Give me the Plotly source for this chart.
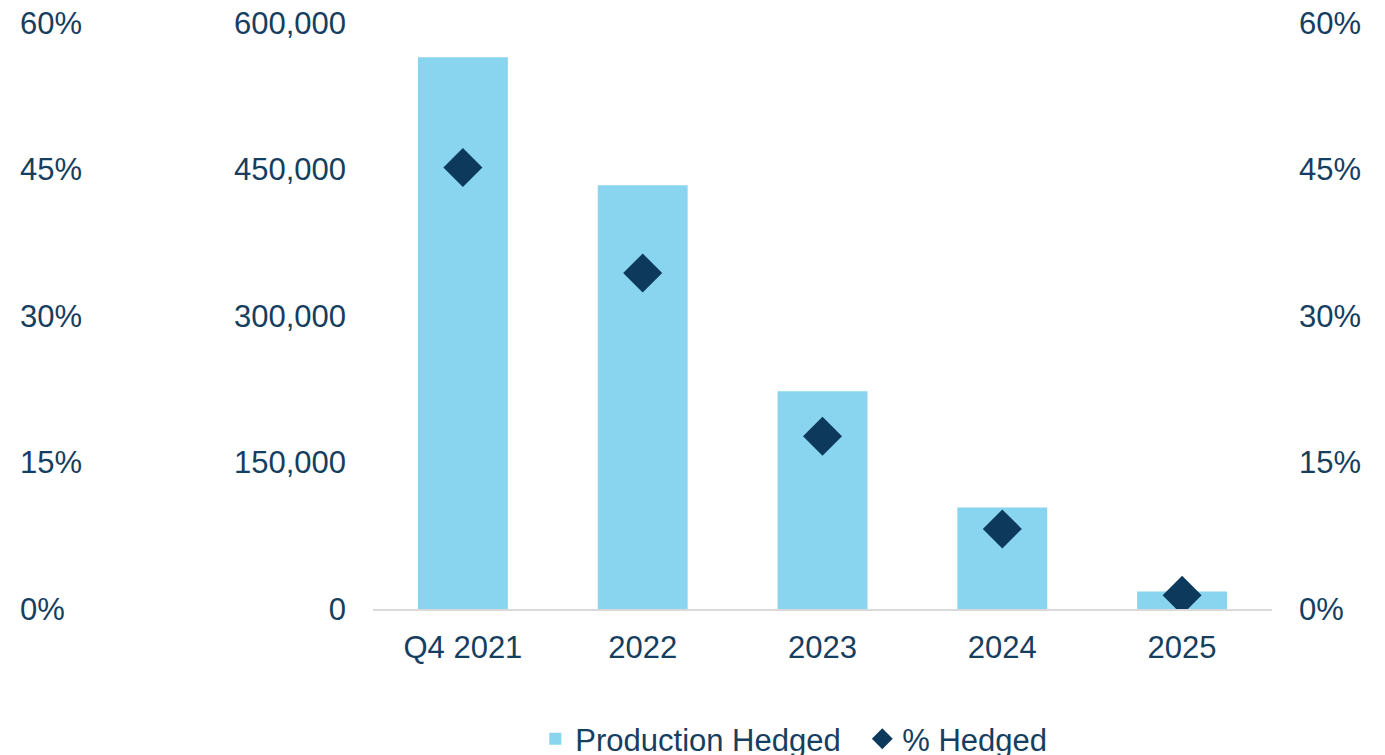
import plotly.graph_objects as go

# Hedging profile by period
periods = ["Q4 2021", "2022", "2023", "2024", "2025"]
production_hedged = [565000, 434000, 223000, 104000, 18000]
pct_hedged = [45.2, 34.4, 17.7, 8.2, 1.4]

volume_ticks = [0, 150000, 300000, 450000, 600000]
pct_ticks = [0, 15, 30, 45, 60]
pct_labels = [f"{v}%" for v in pct_ticks]

BAR_COLOR = "#89D4EE"
MARKER_COLOR = "#0D3A5C"
TEXT_COLOR = "#153E5F"
FONT = "Liberation Sans, Arial, sans-serif"

W, H = 1385, 755
plot_left, plot_right = 373, 1272

fig = go.Figure()

fig.add_trace(go.Bar(
    x=periods, y=production_hedged, name="Production Hedged",
    marker=dict(color=BAR_COLOR, line=dict(width=0)),
    width=0.5, yaxis="y",
))

fig.add_trace(go.Scatter(
    x=periods, y=pct_hedged, name="% Hedged", mode="markers",
    marker=dict(symbol="diamond", size=30, color=MARKER_COLOR),
    yaxis="y2",
))

# same series bound to the outer left percent axis so that axis is drawn
fig.add_trace(go.Scatter(
    x=periods, y=pct_hedged, mode="markers", showlegend=False,
    marker=dict(size=1, opacity=0), hoverinfo="skip",
    yaxis="y3",
))

axis_font = dict(family=FONT, size=31, color=TEXT_COLOR)

fig.update_layout(
    width=W, height=H,
    margin=dict(l=0, r=0, t=23, b=146, autoexpand=False),
    paper_bgcolor="white", plot_bgcolor="white",
    font=dict(family=FONT, size=31, color=TEXT_COLOR),
    showlegend=True,
    legend=dict(
        orientation="h", x=0.6226, xanchor="center", y=-0.222, yanchor="middle",
        font=dict(family=FONT, size=31, color=TEXT_COLOR),
        itemwidth=30, traceorder="normal",
        entrywidth=282, entrywidthmode="pixels",
    ),
    xaxis=dict(
        domain=[plot_left / W, plot_right / W],
        showgrid=False, zeroline=False,
        showline=True, linecolor="#D9D9D9", linewidth=2,
        ticks="", tickfont=axis_font, ticklabelstandoff=10,
    ),
    yaxis=dict(
        range=[0, 600000], tickvals=volume_ticks, tickformat=",",
        showgrid=False, zeroline=False, showline=False, ticks="",
        tickfont=axis_font, ticklabelstandoff=26,
    ),
    yaxis2=dict(
        overlaying="y", side="right", anchor="x",
        range=[0, 60], tickvals=pct_ticks, ticktext=pct_labels,
        showgrid=False, zeroline=False, showline=False, ticks="",
        tickfont=axis_font, ticklabelstandoff=26,
    ),
    yaxis3=dict(
        overlaying="y", side="right", anchor="free", position=0.0,
        range=[0, 60], tickvals=pct_ticks, ticktext=pct_labels,
        showgrid=False, zeroline=False, showline=False, ticks="",
        tickfont=axis_font, ticklabelstandoff=19,
    ),
)

fig.write_html("out.html")
